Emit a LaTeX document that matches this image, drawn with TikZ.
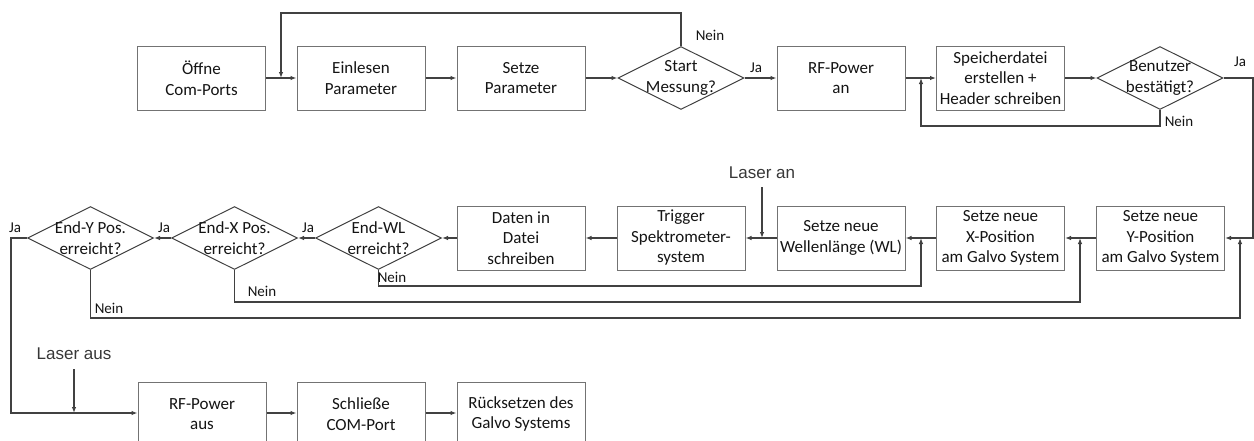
\documentclass[tikz,border=0pt]{standalone}
\usepackage{fontspec}
\setmainfont{Carlito}
\newfontfamily\arialfont{Liberation Sans}
\usetikzlibrary{shapes.geometric,arrows.meta}
\definecolor{lineC}{RGB}{65,65,65}
\definecolor{boxC}{RGB}{115,115,115}
\definecolor{txtC}{RGB}{20,20,20}
\tikzset{
  box/.style={draw=boxC, line width=1pt, rectangle, minimum width=128pt, minimum height=64pt,
    inner sep=0pt, align=center, text=txtC, font=\fontsize{17}{20.5}\selectfont},
  dia/.style={draw=lineC, line width=1pt, diamond, minimum width=126pt, minimum height=63pt, inner sep=0pt},
  dtext/.style={align=center, text=txtC, inner sep=0pt, font=\fontsize{17}{21}\selectfont},
  lbl/.style={text=txtC, inner sep=0pt, font=\fontsize{15}{17}\selectfont},
  laser/.style={text=txtC!85!white, inner sep=0pt, font=\arialfont\fontsize{17}{19}\selectfont},
  arr/.style={draw=lineC, line width=1.1pt, -{Latex[length=6pt,width=4.5pt]}},
}
\begin{document}
\begin{tikzpicture}[x=1pt,y=-1pt]
\useasboundingbox (0,0) rectangle (1254,440);
\clip (0,0) rectangle (1254,440);
% ---- top row
\node[box] (open) at (201.5,78) {Öffne\\Com-Ports};
\node[box] (read) at (361,78) {Einlesen\\Parameter};
\node[box] (set) at (521,78) {Setze\\Parameter};
\node[dia] (start) at (681,78) {};
\node[dtext] (startT) at (681,78) {Start\\Messung?};
\node[box] (rfon) at (841,78) {RF-Power\\an};
\node[box] (file) at (1000.5,78) {Speicherdatei\\erstellen +\\Header schreiben};
\node[dia] (user) at (1160,78) {};
\node[dtext] (userT) at (1160,78) {Benutzer\\bestätigt?};
% ---- middle row
\node[box] (ypos) at (1160.5,238) {Setze neue\\Y-Position\\am Galvo System};
\node[box] (xpos) at (1000.5,238) {Setze neue\\X-Position\\am Galvo System};
\node[box] (wl) at (841,238) {Setze neue\\Wellenlänge (WL)};
\node[box] (trig) at (681,238) {Trigger\\Spektrometer-\\system};
\node[box] (data) at (521,238) {Daten in\\Datei\\schreiben};
\node[dia] (endwl) at (378.5,238) {};
\node[dtext] (endwlT) at (378.5,238) {End-WL\\erreicht?};
\node[dia] (endx) at (234.5,238) {};
\node[dtext] (endxT) at (234.5,238) {End-X Pos.\\erreicht?};
\node[dia] (endy) at (90.5,238) {};
\node[dtext] (endyT) at (90.5,238) {End-Y Pos.\\erreicht?};
% ---- bottom row
\node[box] (rfoff) at (202,414) {RF-Power\\aus};
\node[box] (close) at (361,414) {Schließe\\COM-Port};
\node[box] (reset) at (521,414) {Rücksetzen des\\Galvo Systems};
% ---- external labels
\node[laser] (lan) at (762,173) {Laser an};
\node[laser] (laus) at (74,354) {Laser aus};
% ---- helper coordinates
\coordinate (j1) at (281,78);
\coordinate (t1) at (281,13);
\coordinate (j2) at (921,78);
\coordinate (b2) at (921,126);
\coordinate (r1) at (1253,78);
\coordinate (r2) at (1253,238);
\coordinate (j3) at (1240,238);
\coordinate (j4) at (1080,238);
\coordinate (j5) at (921,238);
\coordinate (j6) at (762,238);
\coordinate (n1) at (378.5,286);
\coordinate (n2) at (234.5,302);
\coordinate (n3) at (90.5,318);
\coordinate (l1) at (11,238);
\coordinate (l2) at (11,413);
\coordinate (j7) at (74,413);
% ---- top connectors
\draw[arr] (open) -- (read);
\draw[arr] (start.north) |- (t1) -- (j1);
\draw[arr] (read) -- (set);
\draw[arr] (set) -- (start);
\draw[arr] (start) -- (rfon);
\draw[arr] (rfon) -- (file);
\draw[arr] (user.south) |- (b2) -- (j2);
\draw[arr] (file) -- (user);
\draw[arr] (user.east) -- (r1) -- (r2) -- (ypos.east);
% ---- middle connectors
\draw[arr] (ypos) -- (xpos);
\draw[arr] (xpos) -- (wl);
\draw[arr] (wl) -- (trig);
\draw[arr] (trig) -- (data);
\draw[arr] (data) -- (endwl);
\draw[arr] (endwl) -- (endx);
\draw[arr] (endx) -- (endy);
\draw[arr] (endwl.south) -- (n1) -| (j5);
\draw[arr] (endx.south) -- (n2) -| (j4);
\draw[arr] (endy.south) -- (n3) -| (j3);
\draw[arr, shorten <=8pt] (lan.south) -- (j6);
% ---- bottom connectors
\draw[arr] (endy.west) -- (l1) -- (l2) -- (rfoff.west |- l2);
\draw[arr, shorten <=9pt] (laus.south) -- (j7);
\draw[arr] (rfoff.east |- l2) -- (close.west |- l2);
\draw[arr] (close.east |- l2) -- (reset.west |- l2);
% ---- branch labels
\node[lbl] (nein1) at (710,35) {Nein};
\node[lbl] (ja1) at (756,68) {Ja};
\node[lbl] (nein2) at (1179,121) {Nein};
\node[lbl] (ja2) at (1240,62) {Ja};
\node[lbl] (ja3) at (15,228) {Ja};
\node[lbl] (ja4) at (164,228) {Ja};
\node[lbl] (ja5) at (308,228) {Ja};
\node[lbl] (nein3) at (392,277) {Nein};
\node[lbl] (nein4) at (262,291) {Nein};
\node[lbl] (nein5) at (109,308) {Nein};
\end{tikzpicture}
\end{document}
